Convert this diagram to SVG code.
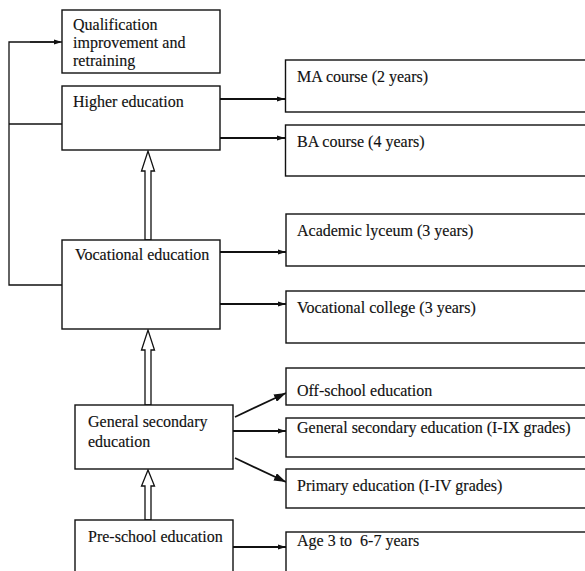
<svg xmlns="http://www.w3.org/2000/svg" width="585" height="571" viewBox="0 0 585 571">
<defs>
<style>
.box{fill:#fff;stroke:#111;stroke-width:1.4}
.t{font-family:"Liberation Serif","Times New Roman",serif;font-size:16px;fill:#111;stroke:#111;stroke-width:0.15}
.ln{fill:none;stroke:#111;stroke-width:1.8}
.ln1{fill:none;stroke:#111;stroke-width:1.3}
.up{fill:#fff;stroke:#111;stroke-width:1.3}
</style>
<marker id="sm" viewBox="0 0 8 6" refX="8" refY="3" markerWidth="8" markerHeight="6" markerUnits="userSpaceOnUse" orient="auto">
<path d="M0,0.5 L8,3 L0,5.5 Z" fill="#111"/>
</marker>
<marker id="lg" viewBox="0 0 12 8" refX="12" refY="4" markerWidth="12" markerHeight="8" markerUnits="userSpaceOnUse" orient="auto">
<path d="M0,0 L12,4 L0,8 Z" fill="#111"/>
</marker>
</defs>
<rect width="585" height="571" fill="#fff"/>
<g id="connectors">
<path class="ln1" d="M60,42 H9 V285 H62"/>
<path class="ln1" d="M9,124 H62"/>
<line class="ln1" x1="30" y1="42" x2="62" y2="42" marker-end="url(#sm)"/>
<line class="ln" x1="220" y1="99" x2="285" y2="99" marker-end="url(#sm)"/>
<line class="ln" x1="220" y1="138" x2="285" y2="138" marker-end="url(#sm)"/>
<line class="ln" x1="220" y1="252" x2="286" y2="252" marker-end="url(#sm)"/>
<line class="ln" x1="220" y1="304" x2="286" y2="304" marker-end="url(#sm)"/>
<line class="ln" x1="235" y1="417" x2="286" y2="393" marker-end="url(#lg)"/>
<line class="ln" x1="233" y1="431" x2="286" y2="431" marker-end="url(#sm)"/>
<line class="ln" x1="235" y1="458" x2="286" y2="482" marker-end="url(#lg)"/>
<line class="ln" x1="233" y1="547" x2="286" y2="547" marker-end="url(#sm)"/>
<path class="up" d="M145,240 V171 H141.5 L148,151 L154.5,171 H151 V240 Z"/>
<path class="up" d="M145,405 V350 H141.5 L148,330 L154.5,350 H151 V405 Z"/>
<path class="up" d="M145,520 V486 H141.5 L148,470 L154.5,486 H151 V520 Z"/>
</g>
<g id="qualification">
<rect class="box" x="62" y="10" width="158" height="63"/>
<text class="t" x="73" y="30">Qualification</text>
<text class="t" x="73" y="48">improvement and</text>
<text class="t" x="73" y="66">retraining</text>
</g>
<g id="higher">
<rect class="box" x="62" y="86" width="158" height="64"/>
<text class="t" x="73" y="107">Higher education</text>
</g>
<g id="ma">
<rect class="box" x="285.5" y="60" width="310" height="52"/>
<text class="t" x="297" y="82">MA course (2 years)</text>
</g>
<g id="ba">
<rect class="box" x="285.5" y="125" width="310" height="51"/>
<text class="t" x="297" y="147">BA course (4 years)</text>
</g>
<g id="vocational">
<rect class="box" x="62" y="240" width="158" height="89"/>
<text class="t" x="75" y="260">Vocational education</text>
</g>
<g id="lyceum">
<rect class="box" x="286" y="214" width="310" height="52"/>
<text class="t" x="297" y="236">Academic lyceum (3 years)</text>
</g>
<g id="college">
<rect class="box" x="286" y="291" width="310" height="52"/>
<text class="t" x="297" y="313">Vocational college (3 years)</text>
</g>
<g id="general">
<rect class="box" x="75" y="405" width="158" height="64"/>
<text class="t" x="88" y="427">General secondary</text>
<text class="t" x="88" y="447">education</text>
</g>
<g id="preschool">
<rect class="box" x="75" y="520" width="158" height="60"/>
<text class="t" x="88" y="542">Pre-school education</text>
</g>
<g id="offschool">
<rect class="box" x="286" y="368" width="310" height="37"/>
<text class="t" x="297" y="396">Off-school education</text>
</g>
<g id="gse9">
<rect class="box" x="286" y="418" width="310" height="39"/>
<text class="t" x="297" y="433">General secondary education (I-IX grades)</text>
</g>
<g id="primary">
<rect class="box" x="286" y="469" width="310" height="39"/>
<text class="t" x="297" y="491">Primary education (I-IV grades)</text>
</g>
<g id="age">
<rect class="box" x="286" y="532" width="310" height="50"/>
<text class="t" x="297" y="546" xml:space="preserve">Age 3 to  6-7 years</text>
</g>
</svg>
